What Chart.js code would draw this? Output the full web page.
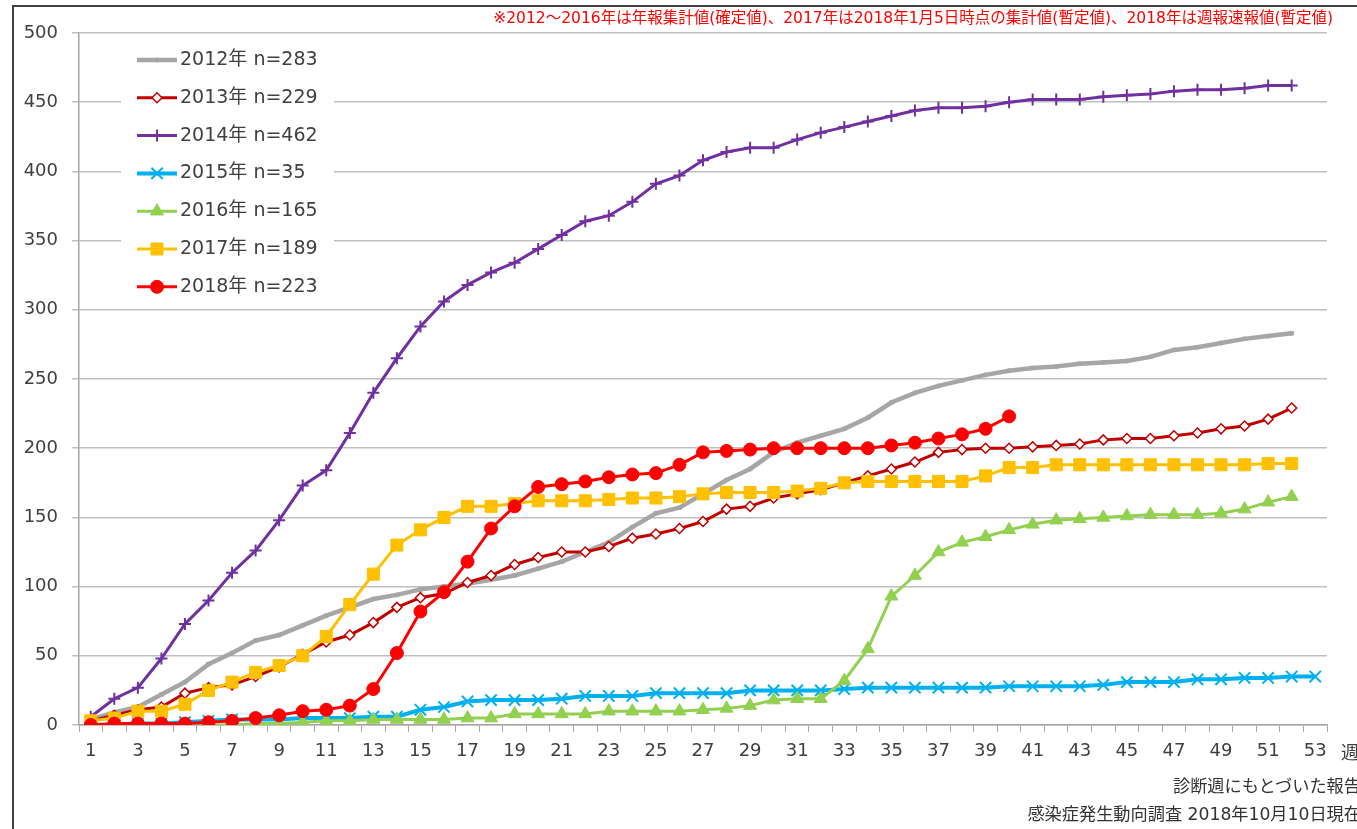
<!DOCTYPE html>
<html lang="ja">
<head>
<meta charset="utf-8">
<title>週別累積報告数</title>
<script src="https://cdn.jsdelivr.net/npm/chart.js@4.4.1/dist/chart.umd.min.js"></script>
<style>
    html, body { margin: 0; padding: 0; background: #fff; }
    #wrap { position: relative; width: 1357px; height: 829px; overflow: hidden; }
    #frame { position: absolute; left: 12px; top: 5px; width: 1400px; height: 900px;
             border-left: 2px solid #404040; border-top: 2px solid #404040; }
    #chart { position: absolute; left: 0; top: 0; }
    .txt { position: absolute; white-space: nowrap; font-family: "DejaVu Sans", "Noto Sans CJK JP", sans-serif; }
    .note { right: 24px; top: 10px; font-size: 15.5px; line-height: 16px; color: #ff0000; }
    .unit { left: 1341px; top: 744px; font-size: 18px; line-height: 18px; color: #404040; }
    .foot { right: -4px; font-size: 17.2px; line-height: 17px; color: #333; }
</style>
</head>
<body>
<div id="wrap">
    <canvas id="chart" width="1357" height="829"></canvas>
    <div id="frame"></div>
    <div class="txt note">※2012～2016年は年報集計値(確定値)、2017年は2018年1月5日時点の集計値(暫定値)、2018年は週報速報値(暫定値)</div>
    <div class="txt unit">週</div>
    <div class="txt foot" style="top:778px">診断週にもとづいた報告</div>
    <div class="txt foot" style="top:806px">感染症発生動向調査 2018年10月10日現在</div>
</div>
<script>
const weeks = ['1', '2', '3', '4', '5', '6', '7', '8', '9', '10', '11', '12', '13', '14', '15', '16', '17', '18',
    '19', '20', '21', '22', '23', '24', '25', '26', '27', '28', '29', '30', '31', '32', '33', '34', '35', '36',
    '37', '38', '39', '40', '41', '42', '43', '44', '45', '46', '47', '48', '49', '50', '51', '52', '53'];

const y2012 = [4, 9, 13, 22, 31, 44, 52, 61, 65, 72, 79, 85, 91, 94, 98, 100, 102, 105, 108, 113, 118, 125, 132, 143,
    153, 157, 167, 177, 185, 197, 204, 209, 214, 222, 233, 240, 245, 249, 253, 256, 258, 259, 261, 262, 263, 266,
    271, 273, 276, 279, 281, 283];
const y2013 = [3, 7, 11, 13, 23, 27, 29, 35, 42, 51, 60, 65, 74, 85, 92, 95, 103, 108, 116, 121, 125, 125, 129, 135,
    138, 142, 147, 156, 158, 164, 167, 170, 175, 180, 185, 190, 197, 199, 200, 200, 201, 202, 203, 206, 207, 207,
    209, 211, 214, 216, 221, 229];
const y2014 = [6, 19, 27, 48, 73, 90, 110, 126, 148, 173, 184, 211, 240, 265, 288, 306, 318, 327, 334, 344, 354, 364,
    368, 378, 391, 397, 408, 414, 417, 417, 423, 428, 432, 436, 440, 444, 446, 446, 447, 450, 452, 452, 452, 454,
    455, 456, 458, 459, 459, 460, 462, 462];
const y2015 = [0, 0, 1, 1, 2, 3, 4, 4, 4, 5, 5, 5, 6, 6, 11, 13, 17, 18, 18, 18, 19, 21, 21, 21, 23, 23, 23, 23, 25,
    25, 25, 25, 26, 27, 27, 27, 27, 27, 27, 28, 28, 28, 28, 29, 31, 31, 31, 33, 33, 34, 34, 35, 35];
const y2016 = [0, 0, 0, 0, 0, 0, 0, 1, 1, 2, 3, 3, 4, 4, 4, 4, 5, 5, 8, 8, 8, 8, 10, 10, 10, 10, 11, 12, 14, 18, 19,
    19, 32, 55, 93, 108, 125, 132, 136, 141, 145, 148, 149, 150, 151, 152, 152, 152, 153, 156, 161, 165];
const y2017 = [3, 5, 10, 10, 15, 25, 31, 38, 43, 50, 64, 87, 109, 130, 141, 150, 158, 158, 160, 162, 162, 162, 163,
    164, 164, 165, 167, 168, 168, 168, 169, 171, 175, 176, 176, 176, 176, 176, 180, 186, 186, 188, 188, 188, 188,
    188, 188, 188, 188, 188, 189, 189];
const y2018 = [0, 1, 1, 1, 1, 2, 3, 5, 7, 10, 11, 14, 26, 52, 82, 96, 118, 142, 158, 172, 174, 176, 179, 181, 182,
    188, 197, 198, 199, 200, 200, 200, 200, 200, 202, 204, 207, 210, 214, 223];

const seriesNames = ['2012年 n=283', '2013年 n=229', '2014年 n=462', '2015年 n=35',
    '2016年 n=165', '2017年 n=189', '2018年 n=223'];
const yTicks = [0, 50, 100, 150, 200, 250, 300, 350, 400, 450, 500];

const FONT = '"DejaVu Sans", "Noto Sans CJK JP", sans-serif';
const TEXT = '#404040';

document.addEventListener('DOMContentLoaded', () => {
    initChart();
});

function makeSet(label, data, color, lineWidth, style, radius, fill, borderWidth, order) {
    return {
        label: label,
        data: data,
        borderColor: color,
        borderWidth: lineWidth,
        pointStyle: style,
        pointRadius: radius,
        pointBackgroundColor: fill,
        pointBorderColor: color,
        pointBorderWidth: borderWidth,
        tension: 0,
        order: order
    };
}

// legend sits inside the plot, top-left, on a white box that hides the grid
const insideLegend = {
    id: 'insideLegend',
    afterDraw(chart) {
        const ctx = chart.ctx;
        ctx.save();
        ctx.fillStyle = '#fff';
        ctx.fillRect(121, 40, 213, 262);
        chart.data.datasets.forEach((ds, i) => {
            const y = 60 + i * 37.8;
            ctx.strokeStyle = ds.borderColor;
            ctx.lineWidth = ds.borderWidth;
            ctx.beginPath();
            ctx.moveTo(137, y);
            ctx.lineTo(177, y);
            ctx.stroke();

            ctx.fillStyle = ds.pointBackgroundColor;
            ctx.strokeStyle = ds.pointBorderColor;
            ctx.lineWidth = ds.pointBorderWidth;
            Chart.helpers.drawPoint(ctx, {
                pointStyle: ds.pointStyle,
                radius: ds.pointRadius,
                rotation: 0,
                borderWidth: ds.pointBorderWidth
            }, 157, y);

            ctx.fillStyle = TEXT;
            ctx.font = '19px ' + FONT;
            ctx.textBaseline = 'middle';
            ctx.textAlign = 'left';
            ctx.fillText(seriesNames[i], 180, y);
        });
        ctx.restore();
    }
};

function initChart() {
    const canvas = document.getElementById('chart');

    const datasets = [
        makeSet(seriesNames[0], y2012, '#a6a6a6', 4.5, 'rect', 2.5, '#a6a6a6', 1, 7),
        makeSet(seriesNames[1], y2013, '#c00000', 3, 'rectRot', 5, '#ffffff', 1.5, 6),
        makeSet(seriesNames[2], y2014, '#7030a0', 3, 'cross', 6, '#7030a0', 2, 5),
        makeSet(seriesNames[3], y2015, '#00b0f0', 4, 'crossRot', 8, '#00b0f0', 2, 4),
        makeSet(seriesNames[4], y2016, '#92d050', 3, 'triangle', 7.5, '#92d050', 1, 3),
        makeSet(seriesNames[5], y2017, '#ffc000', 3, 'rect', 8.5, '#ffc000', 1, 2),
        makeSet(seriesNames[6], y2018, '#ff0000', 3, 'circle', 6.5, '#ff0000', 1, 1)
    ];

    new Chart(canvas, {
        type: 'line',
        data: { labels: weeks, datasets: datasets },
        plugins: [insideLegend],
        options: {
            responsive: false,
            animation: false,
            layout: { padding: { top: 33, right: 30, left: 0, bottom: 0 } },
            plugins: {
                legend: { display: false },
                tooltip: { enabled: false }
            },
            scales: {
                x: {
                    offset: true,
                    grid: { offset: true, drawOnChartArea: false, tickLength: 7, color: '#a6a6a6', lineWidth: 1 },
                    border: { color: '#a6a6a6', width: 1.5 },
                    ticks: {
                        autoSkip: false,
                        maxRotation: 0,
                        padding: 9,
                        color: TEXT,
                        font: { family: FONT, size: 18 },
                        callback: function (v, i) {
                            return i % 2 === 0 ? this.getLabelForValue(v) : '';
                        }
                    },
                    afterFit: (s) => { s.height = 104; }
                },
                y: {
                    min: yTicks[0],
                    max: yTicks[yTicks.length - 1],
                    afterBuildTicks: (s) => { s.ticks = yTicks.map(v => ({ value: v })); },
                    grid: { color: '#bfbfbf', lineWidth: 1.5, tickLength: 7 },
                    border: { color: '#a6a6a6', width: 1.5 },
                    ticks: {
                        padding: 14,
                        color: TEXT,
                        font: { family: FONT, size: 18 }
                    },
                    afterFit: (s) => { s.width = 79; }
                }
            }
        }
    });
}
</script>
</body>
</html>
